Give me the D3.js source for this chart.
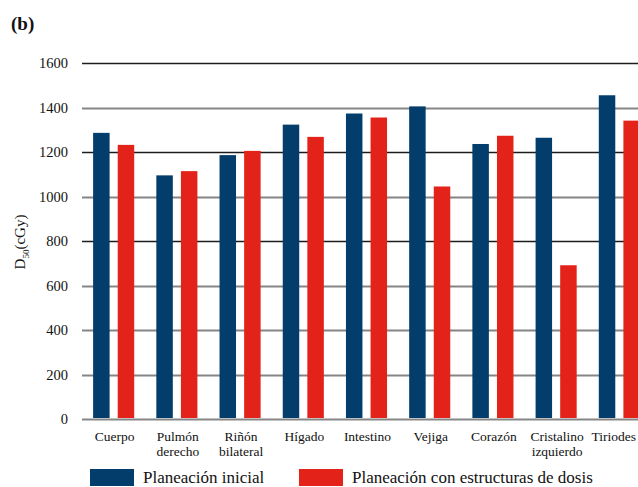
<!DOCTYPE html>
<html>
<head>
<meta charset="utf-8">
<script src="https://cdn.jsdelivr.net/npm/d3@7"></script>
<style>
  body { margin: 0; background: #fff; }
  svg { display: block; font-family: "Liberation Serif", "DejaVu Serif", serif; }
</style>
</head>
<body>
<svg id="chart" width="638" height="487"></svg>
<script>
// organs (two-line labels split with \n)
const organs = ["Cuerpo", "Pulmón\nderecho", "Riñón\nbilateral", "Hígado", "Intestino",
                "Vejiga", "Corazón", "Cristalino\nizquierdo", "Tiriodes"];
const series = ["Planeación inicial", "Planeación con estructuras de dosis"];
const inicial = [1286, 1095, 1186, 1323, 1373, 1405, 1236, 1264, 1455];
const conEstructuras = [1232, 1114, 1205, 1268, 1355, 1045, 1273, 691, 1341];
const yTicks = [0, 200, 400, 600, 800, 1000, 1200, 1400, 1600];

const colors = ["#023d6c", "#e32219"];

const svg = d3.select("#chart");
const plotLeft = 83, plotRight = 650, plotTop = 63, plotBottom = 419;

const data = organs.map((o, i) => ({organ: o, values: [inicial[i], conEstructuras[i]]}));

const x = d3.scaleBand()
  .domain(organs)
  .range([plotLeft, plotRight])
  .paddingInner(0.35)
  .paddingOuter(0.16);

const xSub = d3.scaleBand()
  .domain(series)
  .range([0, x.bandwidth()])
  .paddingInner(0.33);

const y = d3.scaleLinear()
  .domain([0, 1600])
  .range([plotBottom, plotTop]);

// gridlines: alternate dark / gray in the upper part
const darkLines = [1600, 1200, 800];
svg.append("g").selectAll("line")
  .data(yTicks)
  .enter()
  .append("line")
  .attr("x1", plotLeft - 1)
  .attr("x2", 638)
  .attr("y1", d => Math.round(y(d)) + 0.5)
  .attr("y2", d => Math.round(y(d)) + 0.5)
  .attr("stroke", d => darkLines.includes(d) ? "#1c1c1c" : "#858585")
  .attr("stroke-width", d => darkLines.includes(d) ? 1.5 : 2);

// y tick labels
svg.append("g").selectAll("text")
  .data(yTicks)
  .enter()
  .append("text")
  .attr("x", 68)
  .attr("y", d => y(d) + 5)
  .attr("text-anchor", "end")
  .attr("font-size", 14.5)
  .attr("fill", "#111")
  .text(d => d);

// bars
const groups = svg.append("g").selectAll("g")
  .data(data)
  .enter()
  .append("g")
  .attr("transform", d => `translate(${x(d.organ)},0)`);

groups.selectAll("rect")
  .data(d => d.values.map((v, i) => ({key: series[i], value: v, i: i})))
  .enter()
  .append("rect")
  .attr("x", d => xSub(d.key))
  .attr("width", xSub.bandwidth())
  .attr("y", d => y(d.value))
  .attr("height", d => y(0) - y(d.value) - 1)
  .attr("fill", d => colors[d.i]);

// x labels (last one is pinned to the right edge so it stays inside)
const lastOrgan = organs[organs.length - 1];
const labelX = d => d === lastOrgan ? 636 : x(d) + x.bandwidth() / 2 + 1;
const xl = svg.append("g").selectAll("text")
  .data(organs)
  .enter()
  .append("text")
  .attr("x", labelX)
  .attr("y", 441)
  .attr("text-anchor", d => d === lastOrgan ? "end" : "middle")
  .attr("font-size", 13.5)
  .attr("fill", "#111");

xl.selectAll("tspan")
  .data(d => d.split("\n"))
  .enter()
  .append("tspan")
  .attr("x", function() { return d3.select(this.parentNode).attr("x"); })
  .attr("dy", (d, i) => i === 0 ? 0 : 15)
  .text(d => d);

// y axis title
const yt = svg.append("text")
  .attr("transform", "translate(25,242) rotate(-90)")
  .attr("text-anchor", "middle")
  .attr("font-size", 15)
  .attr("fill", "#111");
yt.append("tspan").text("D");
yt.append("tspan").attr("font-size", 9).attr("dy", 4).text("50");
yt.append("tspan").attr("dy", -4).text("(cGy)");

// panel letter
svg.append("text")
  .attr("x", 11)
  .attr("y", 30)
  .attr("font-size", 19)
  .attr("font-weight", "bold")
  .attr("fill", "#111")
  .text("(b)");

// legend
const legendX = [90, 299];
const legend = svg.append("g").selectAll("g")
  .data(series)
  .enter()
  .append("g")
  .attr("transform", (d, i) => `translate(${legendX[i]},469)`);

legend.append("rect")
  .attr("width", 44)
  .attr("height", 17)
  .attr("fill", (d, i) => colors[i]);

legend.append("text")
  .attr("x", 53)
  .attr("y", 14)
  .attr("font-size", 17)
  .attr("fill", "#111")
  .text(d => d);
</script>
</body>
</html>
